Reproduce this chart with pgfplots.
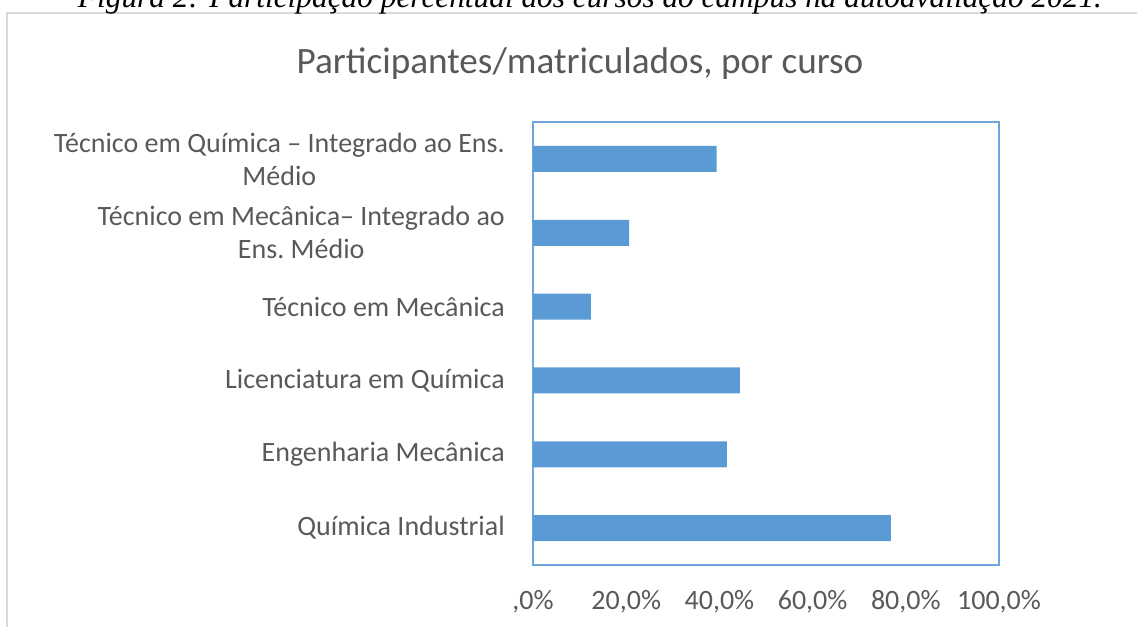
\documentclass[border=0pt]{standalone}
\usepackage{fontspec}
\setmainfont{Carlito}
\newfontfamily\capfont{Liberation Serif}
\usepackage{pgfplots}
\pgfplotsset{compat=1.18}
\definecolor{barblue}{HTML}{5B9BD5}
\definecolor{boxblue}{HTML}{6FA5DB}
\definecolor{txtgray}{HTML}{595959}
\definecolor{framegray}{HTML}{D9D9D9}

\begin{document}
\begin{tikzpicture}
% 1 px of the reference = 0.75pt, origin at the top left corner
\useasboundingbox (0,0) rectangle (852.75pt,-469.5pt);
\begin{scope}
\clip (0,0) rectangle (852.75pt,-469.5pt);
\draw[framegray, line width=1.5pt] (5.25pt,-500pt) -- (5.25pt,-9.75pt) -- (900pt,-9.75pt);
\node[anchor=base, inner sep=0pt, font=\capfont\itshape\fontsize{23.5}{28}\selectfont]
  at (442.5pt,-5.6pt) {Figura 2: Participação percentual dos cursos do campus na autoavaliação 2021.};
\end{scope}

\node[text=txtgray, font=\fontsize{27.9}{33}\selectfont] at (435pt,-48pt)
  {Participantes/matriculados, por curso};

\begin{axis}[
  at={(399.75pt,-423.75pt)}, anchor=south west,
  width=349.5pt, height=332.25pt, scale only axis,
  xbar, bar width=19.5pt,
  xmin=0, xmax=100, ymin=-0.5, ymax=5.5,
  xtick={0,20,...,100},
  xticklabels={{,0\%},{20,0\%},{40,0\%},{60,0\%},{80,0\%},{100,0\%}},
  ytick={0,...,5},
  yticklabels={
    Química Industrial,
    Engenharia Mecânica,
    Licenciatura em Química,
    Técnico em Mecânica,
    {Técnico em Mecânica– Integrado ao\\Ens.\ Médio},
    {Técnico em Química – Integrado ao Ens.\\Médio}},
  major tick length=0pt,
  axis line style={boxblue, line width=1.1pt},
  ticklabel style={text=txtgray, font=\fontsize{21}{24.75}\selectfont, inner sep=0pt},
  yticklabel style={align=center, xshift=-21pt},
  xticklabel style={anchor=north, yshift=-18.5pt},
]
\addplot[fill=barblue, draw=none] coordinates {
  (76.8,0) (41.6,1) (44.4,2) (12.4,3) (20.6,4) (39.4,5)
};
\end{axis}
\end{tikzpicture}
\end{document}
